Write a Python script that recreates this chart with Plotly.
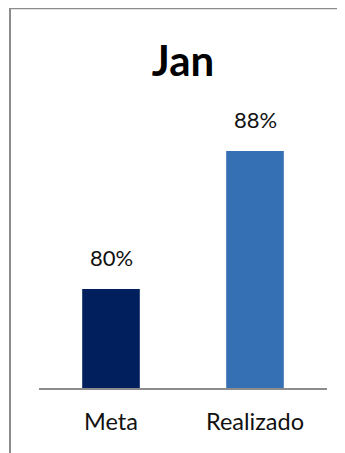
import plotly.graph_objects as go

categories = ["Meta", "Realizado"]
values = [80, 88]
labels = ["80%", "88%"]
colors = ["#001F5C", "#3670B4"]
title_text = "Jan"

# the page body adds an 8px offset; positions below are in figure pixels
W, H = 345, 453
ml, mr, mt, mb = 31, 26, 92, 73
ymin, ymax = 74.26, 90.96

fig = go.Figure()
fig.add_trace(go.Bar(
    x=categories, y=values, marker=dict(color=colors, line=dict(width=0)),
    width=0.4, hoverinfo="skip",
))
for c, v, t in zip(categories, values, labels):
    fig.add_annotation(x=c, y=v, text=t, showarrow=False, yanchor="bottom",
                       yshift=16, font=dict(family="Lato", size=22, color="#111111"))

plot_w = W - ml - mr
plot_h = H - mt - mb
fig.add_shape(type="rect", xref="paper", yref="paper",
              x0=(2 - ml) / plot_w, x1=1.4,
              y0=-0.6, y1=(H - mb - 0.3) / plot_h,
              line=dict(color="#8c8c8c", width=2), layer="above")

fig.update_layout(
    width=W, height=H,
    margin=dict(l=ml, r=mr, t=mt, b=mb),
    paper_bgcolor="white", plot_bgcolor="white",
    showlegend=False,
    title=dict(text="<b>" + title_text + "</b>", x=0.5, xref="paper", xanchor="center",
               y=(H - 53) / H, yanchor="middle", yref="container",
               font=dict(family="Lato", size=42, color="#000000")),
    xaxis=dict(showline=True, linecolor="#8c8c8c", linewidth=2, showgrid=False,
               ticks="outside", ticklen=12, tickcolor="rgba(0,0,0,0)",
               tickfont=dict(family="Lato", size=23.5, color="#111111"),
               fixedrange=True),
    yaxis=dict(range=[ymin, ymax], visible=False, fixedrange=True),
)
fig.write_html("out.html")
